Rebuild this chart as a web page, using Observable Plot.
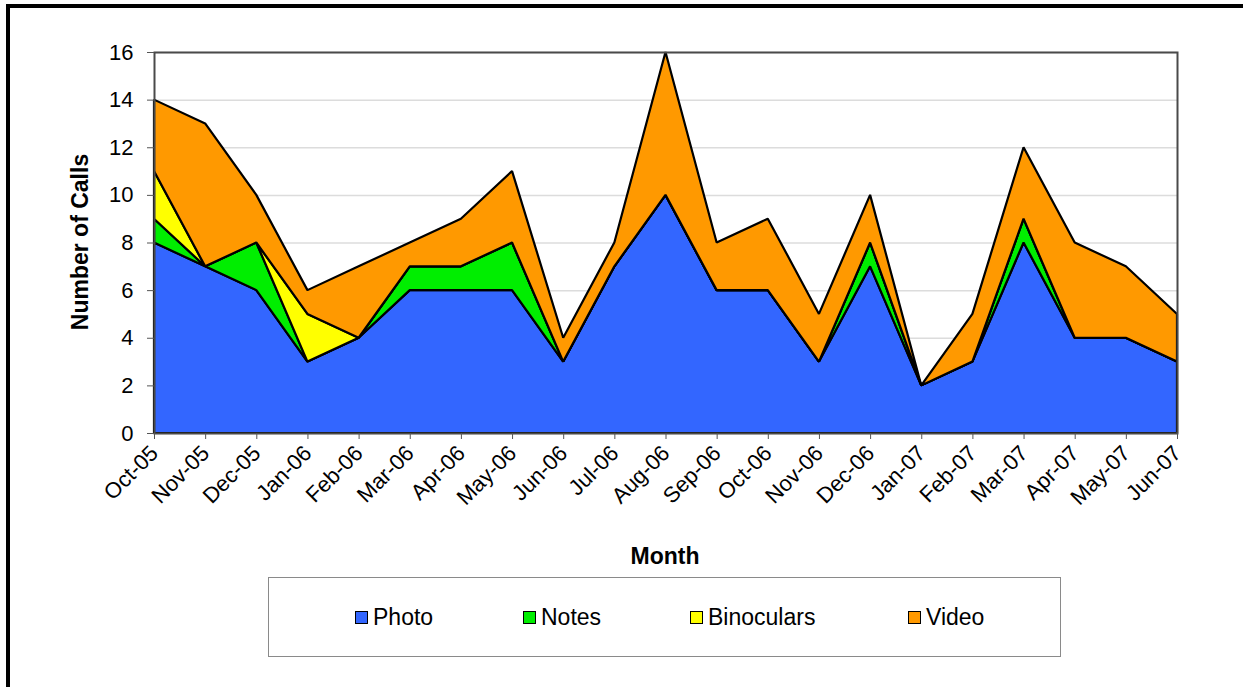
<!DOCTYPE html>
<html>
<head>
<meta charset="utf-8">
<script src="https://cdn.jsdelivr.net/npm/d3@7"></script>
<script src="https://cdn.jsdelivr.net/npm/@observablehq/plot@0.6"></script>
<style>
  html, body { margin: 0; padding: 0; background: #fff; }
  #page { position: relative; width: 1243px; height: 687px; overflow: hidden; background: #fff;
          font-family: "Liberation Sans", Arial, sans-serif; }
  #edgeTop { position: absolute; left: 6px; top: 4px; width: 1237px; height: 4px; background: #000; }
  #edgeLeft { position: absolute; left: 6px; top: 4px; width: 4px; height: 683px; background: #000; }
  #chart { position: absolute; left: 0; top: 0; }
  #chart svg text { font-size: 22px; }
  #ytitle { position: absolute; left: 80px; top: 242px; transform: translate(-50%, -50%) rotate(-90deg);
            font-weight: bold; font-size: 23px; white-space: nowrap; color: #000; }
  #xtitle { position: absolute; left: 665px; top: 556px; transform: translate(-50%, -50%);
            font-weight: bold; font-size: 23px; color: #000; }
  #legend { position: absolute; left: 268px; top: 577px; width: 793px; height: 80px;
            border: 1.5px solid #8a8a8a; box-sizing: border-box; }
  .item { position: absolute; top: 26px; display: flex; align-items: center; font-size: 23px; color: #000; }
  .sw { width: 11px; height: 11px; border: 1px solid #000; margin-right: 5px; }
</style>
</head>
<body>
<div id="page">
  <div id="edgeTop"></div>
  <div id="edgeLeft"></div>
  <div id="chart"></div>
  <div id="ytitle">Number of Calls</div>
  <div id="xtitle">Month</div>
  <div id="legend"></div>
</div>
<script>
// Monthly call counts by equipment type
const months = ["Oct-05","Nov-05","Dec-05","Jan-06","Feb-06","Mar-06","Apr-06","May-06","Jun-06","Jul-06","Aug-06",
                "Sep-06","Oct-06","Nov-06","Dec-06","Jan-07","Feb-07","Mar-07","Apr-07","May-07","Jun-07"];
const seriesNames = ["Photo", "Notes", "Binoculars", "Video"];
const seriesColors = ["#3366ff", "#00ee00", "#ffff00", "#ff9900"];
const photo      = [8, 7, 6, 3, 4, 6, 6, 6, 3, 7, 10, 6, 6, 3, 7, 2, 3, 8, 4, 4, 3];
const notes      = [1, 0, 2, 0, 0, 1, 1, 2, 0, 0, 0, 0, 0, 0, 1, 0, 0, 1, 0, 0, 0];
const binoculars = [2, 0, 0, 2, 0, 0, 0, 0, 0, 0, 0, 0, 0, 0, 0, 0, 0, 0, 0, 0, 0];
const video      = [3, 6, 2, 1, 3, 1, 2, 3, 1, 1, 6, 2, 3, 2, 2, 0, 2, 3, 4, 3, 2];
const yTicks = [0, 2, 4, 6, 8, 10, 12, 14, 16];

const valuesBySeries = [photo, notes, binoculars, video];
const rows = [];
seriesNames.forEach((name, s) => {
  valuesBySeries[s].forEach((v, i) => rows.push({series: name, month: i, calls: v}));
});

const chart = Plot.plot({
  width: 1243,
  height: 570,
  marginLeft: 154,
  marginRight: 66,
  marginTop: 52,
  marginBottom: 137,
  style: {fontFamily: "Liberation Sans, Arial, sans-serif", fontSize: "22px", color: "#000", background: "transparent"},
  x: {type: "linear", domain: [0, months.length - 1], nice: false},
  y: {domain: [0, 16]},
  color: {domain: seriesNames, range: seriesColors},
  marks: [
    Plot.gridY(yTicks, {stroke: "#dcdcdc", strokeOpacity: 1, strokeWidth: 1.5}),
    Plot.areaY(rows, Plot.stackY({
      x: "month", y: "calls", z: "series", fill: "series", order: seriesNames,
      stroke: "#000", strokeWidth: 2.2, strokeLinejoin: "miter"
    })),
    Plot.frame({stroke: "#4a4a4a", strokeWidth: 2}),
    Plot.axisY(yTicks, {tickSize: 7, tickPadding: 14, stroke: "#555", label: null, fontSize: 22}),
    Plot.axisX(d3.range(months.length), {
      tickSize: 6, tickPadding: 10, tickRotate: -45, stroke: "#555",
      tickFormat: i => months[i], label: null, fontSize: 22
    })
  ]
});
document.getElementById("chart").appendChild(chart);

// legend entries
const legendX = [86, 254, 421, 639];
const legend = document.getElementById("legend");
seriesNames.forEach((name, s) => {
  const item = document.createElement("div");
  item.className = "item";
  item.style.left = legendX[s] + "px";
  item.innerHTML = `<span class="sw" style="background:${seriesColors[s]}"></span><span>${name}</span>`;
  legend.appendChild(item);
});
</script>
</body>
</html>
